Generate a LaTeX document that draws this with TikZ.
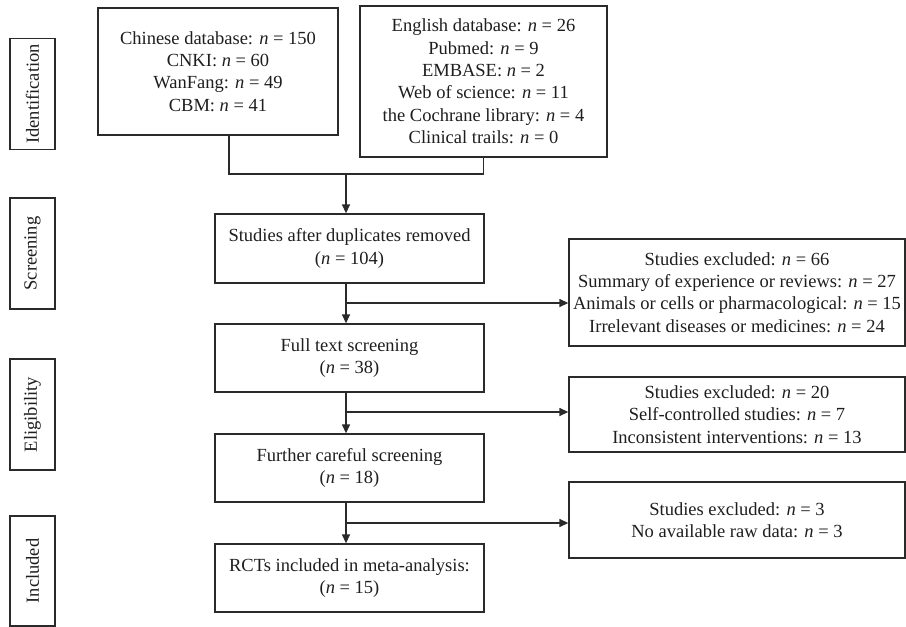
\documentclass[tikz,border=0pt]{standalone}
\usepackage{fontspec}
\setmainfont{Liberation Serif}
\usetikzlibrary{arrows.meta}
\definecolor{linec}{HTML}{2A2A2A}
\definecolor{txtc}{HTML}{1E1E1E}
\newcommand\myn{\textit{n}}
\begin{document}
\begin{tikzpicture}[x=1pt,y=-1pt,
  box/.style={draw=linec, line width=1.3pt, inner sep=0pt, align=center, text=txtc,
    font=\fontsize{18.5}{22.4}\selectfont},
  stage/.style={box, rotate=90, minimum width=111pt, minimum height=45pt},
  arr/.style={draw=linec, line width=1.3pt, -{Triangle[length=9pt,width=8pt]}},
  ln/.style={draw=linec, line width=1.3pt}]
\useasboundingbox (0,0) rectangle (906,627);

% stage labels
\node[stage] (sid) at (32.5,94) {Identification};
\node[stage] (ssc) at (32.5,253.5) {Screening};
\node[stage] (sel) at (32.5,414.5) {Eligibility};
\node[stage, minimum width=110pt] (sin) at (32.5,571) {Included};

% identification boxes
\node[box, minimum width=240pt, minimum height=127pt] (chinese) at (218,71.5)
  {Chinese database: \myn{} = 150\\CNKI: \myn{} = 60\\WanFang: \myn{} = 49\\CBM: \myn{} = 41};
\node[box, minimum width=247pt, minimum height=151pt] (english) at (483.5,81.5)
  {English database: \myn{} = 26\\Pubmed: \myn{} = 9\\EMBASE: \myn{} = 2\\Web of science: \myn{} = 11\\the Cochrane library: \myn{} = 4\\Clinical trails: \myn{} = 0};

% main column
\node[box, minimum width=269pt, minimum height=69pt] (studies) at (349.5,248.5)
  {Studies after duplicates removed\\(\myn{} = 104)};
\node[box, minimum width=269pt, minimum height=68pt] (fulltext) at (349.5,358)
  {Full text screening\\(\myn{} = 38)};
\node[box, minimum width=269pt, minimum height=68pt] (further) at (349.5,468)
  {Further careful screening\\(\myn{} = 18)};
\node[box, minimum width=269pt, minimum height=68pt] (rct) at (349.5,578)
  {RCTs included in meta-analysis:\\(\myn{} = 15)};

% exclusion boxes
\node[box, minimum width=336pt, minimum height=107pt] (ex1) at (737,292.5)
  {Studies excluded: \myn{} = 66\\Summary of experience or reviews: \myn{} = 27\\Animals or cells or pharmacological: \myn{} = 15\\Irrelevant diseases or medicines: \myn{} = 24};
\node[box, minimum width=336pt, minimum height=75pt] (ex2) at (737,414.5)
  {Studies excluded: \myn{} = 20\\Self-controlled studies: \myn{} = 7\\Inconsistent interventions: \myn{} = 13};
\node[box, minimum width=336pt, minimum height=76pt] (ex3) at (737,520)
  {Studies excluded: \myn{} = 3\\No available raw data: \myn{} = 3};

% connector coordinates
\coordinate (cl) at (229,174);
\coordinate (jn) at (346,174);
\coordinate (b1) at (346,303);
\coordinate (b2) at (346,412);
\coordinate (b3) at (346,523);

% merge of the two databases
\draw[ln] (chinese.south -| cl) -- (cl) -| (english.south);
\draw[arr] (jn) -- (studies.north -| jn);

% main flow
\draw[arr] (studies.south -| jn) -- (fulltext.north -| jn);
\draw[arr] (fulltext.south -| jn) -- (further.north -| jn);
\draw[arr] (further.south -| jn) -- (rct.north -| jn);

% exclusions
\draw[arr] (b1) -- (ex1.west |- b1);
\draw[arr] (b2) -- (ex2.west |- b2);
\draw[arr] (b3) -- (ex3.west |- b3);
\end{tikzpicture}
\end{document}
